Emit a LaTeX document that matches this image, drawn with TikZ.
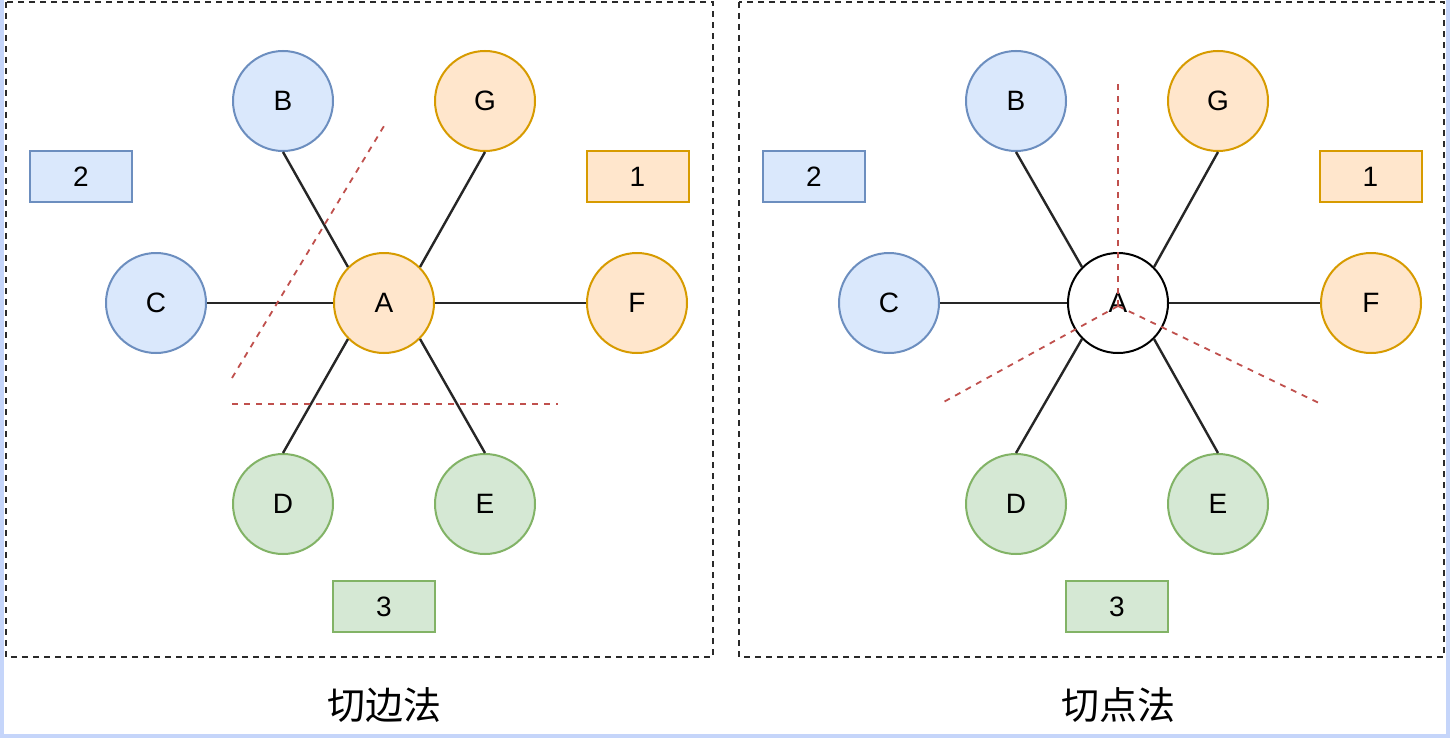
\documentclass[tikz,border=0pt]{standalone}
\usepackage{fontspec}
\setmainfont{Liberation Sans}
\newfontfamily\cjk{Noto Sans CJK SC}
\definecolor{bluefill}{HTML}{DAE8FC}
\definecolor{bluedraw}{HTML}{6C8EBF}
\definecolor{orfill}{HTML}{FFE6CC}
\definecolor{ordraw}{HTML}{D79B00}
\definecolor{grfill}{HTML}{D5E8D4}
\definecolor{grdraw}{HTML}{82B366}
\definecolor{cutred}{HTML}{C0504D}
\definecolor{edgeblue}{HTML}{C5D5FA}
\definecolor{boxgray}{HTML}{2A2A2A}
\tikzset{
  vtx/.style={circle, minimum size=50pt, inner sep=0pt, line width=1pt, font=\fontsize{14}{14}\selectfont},
  bluev/.style={vtx, fill=bluefill, draw=bluedraw},
  orv/.style={vtx, fill=orfill, draw=ordraw},
  grv/.style={vtx, fill=grfill, draw=grdraw},
  whv/.style={vtx, fill=white, draw=black},
  lbl/.style={rectangle, minimum width=51pt, minimum height=25.5pt, inner sep=0pt, line width=1pt, font=\fontsize{14}{14}\selectfont},
  bluel/.style={lbl, fill=bluefill, draw=bluedraw},
  orl/.style={lbl, fill=orfill, draw=ordraw},
  grl/.style={lbl, fill=grfill, draw=grdraw},
  edge/.style={draw=black!85, line width=1.2pt},
  cut/.style={draw=cutred, line width=0.9pt, dash pattern=on 3pt off 3pt},
  panel/.style={draw=boxgray, line width=1.3pt, dash pattern=on 3pt off 2.5pt},
  ttl/.style={font=\cjk\fontsize{19}{19}\selectfont}
}
\begin{document}
\begin{tikzpicture}[x=0.5pt, y=-0.5pt]
\useasboundingbox (0,0) rectangle (1450,738);
\fill[edgeblue] (0,0) rectangle (1450,738);
\fill[white] (4,0) rectangle (1446,734);
% panels
\draw[panel] (6,2) rectangle (713,657);
\draw[panel] (739,2) rectangle (1444,657);
% left panel
\node[orv] (A1) at (384,303) {A};
\node[bluev] (B1) at (283,101) {B};
\node[orv] (G1) at (485,101) {G};
\node[bluev] (C1) at (156,303) {C};
\node[orv] (F1) at (637,303) {F};
\node[grv] (D1) at (283,504) {D};
\node[grv] (E1) at (485,504) {E};
\draw[edge] (B1.south) -- (A1.north west);
\draw[edge] (G1.south) -- (A1.north east);
\draw[edge] (C1.east) -- (A1.west);
\draw[edge] (F1.west) -- (A1.east);
\draw[edge] (D1.north) -- (A1.south west);
\draw[edge] (E1.north) -- (A1.south east);
\node[bluel] (L21) at (81,176.5) {2};
\node[orl] (L11) at (637.5,176.5) {1};
\node[grl] (L31) at (384,606.5) {3};
\coordinate (c1a) at (232,378);
\coordinate (c1b) at (384,126);
\coordinate (c1c) at (232,404);
\coordinate (c1d) at (558,404);
\draw[cut] (c1a) -- (c1b);
\draw[cut] (c1c) -- (c1d);
\node[ttl] (T1) at (384,705) {切边法};
% right panel
\node[whv] (A2) at (1118,303) {A};
\node[bluev] (B2) at (1016,101) {B};
\node[orv] (G2) at (1218,101) {G};
\node[bluev] (C2) at (889,303) {C};
\node[orv] (F2) at (1371,303) {F};
\node[grv] (D2) at (1016,504) {D};
\node[grv] (E2) at (1218,504) {E};
\draw[edge] (B2.south) -- (A2.north west);
\draw[edge] (G2.south) -- (A2.north east);
\draw[edge] (C2.east) -- (A2.west);
\draw[edge] (F2.west) -- (A2.east);
\draw[edge] (D2.north) -- (A2.south west);
\draw[edge] (E2.north) -- (A2.south east);
\node[bluel] (L22) at (814,176.5) {2};
\node[orl] (L12) at (1370.5,176.5) {1};
\node[grl] (L32) at (1117,606.5) {3};
\coordinate (c2o) at (1118,306);
\coordinate (c2t) at (1118,84);
\coordinate (c2l) at (940,404);
\coordinate (c2r) at (1321,404);
\draw[cut] (c2o) -- (c2t);
\draw[cut] (c2o) -- (c2l);
\draw[cut] (c2o) -- (c2r);
\node[ttl] (T2) at (1118,705) {切点法};
\end{tikzpicture}
\end{document}
